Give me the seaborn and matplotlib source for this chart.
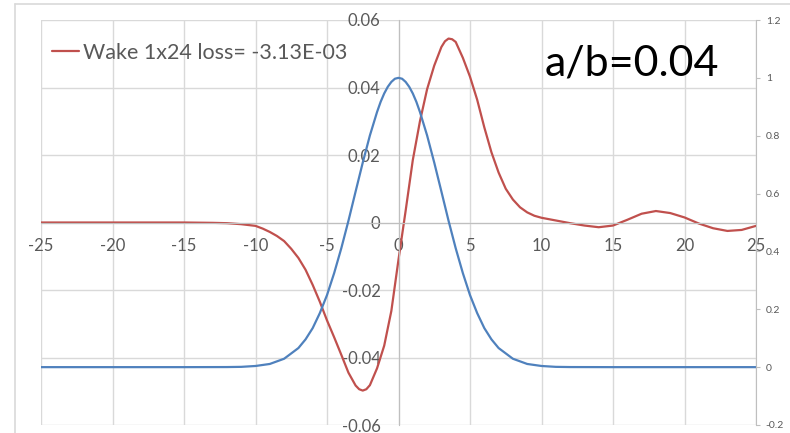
import matplotlib
matplotlib.use("Agg")
import matplotlib.pyplot as plt
import seaborn as sns
from matplotlib.lines import Line2D

# wake (red, left axis)
wake_x = [-25, -20, -15, -13, -12, -11, -10, -9.5, -9, -8.5, -8, -7.5, -7, -6.5, -6, -5.5, -5,
          -4.5, -4, -3.5, -3, -2.75, -2.5, -2.25, -2, -1.5, -1, -0.5, 0, 0.5, 1, 1.5, 2, 2.5,
          3, 3.25, 3.5, 3.75, 4, 4.5, 5, 5.5, 6, 6.5, 7, 7.5, 8, 8.5, 9, 9.5, 10, 11, 12, 13,
          14, 15, 16, 17, 18, 19, 20, 21, 22, 23, 24, 25]
wake_y = [0.0, 0.0, 0.0, -0.0001, -0.0002, -0.0005, -0.0010, -0.0018, -0.0028, -0.0040, -0.0055,
          -0.0078, -0.0105, -0.0140, -0.0185, -0.0235, -0.0290, -0.0340, -0.0392, -0.0445,
          -0.0483, -0.0494, -0.0498, -0.0494, -0.0482, -0.0432, -0.0365, -0.0262, -0.0110,
          0.0035, 0.0185, 0.0300, 0.0395, 0.0465, 0.0520, 0.0537, 0.0545, 0.0543, 0.0535,
          0.0488, 0.0432, 0.0364, 0.0282, 0.0208, 0.0148, 0.0100, 0.0068, 0.0045, 0.0030,
          0.0020, 0.0014, 0.0006, -0.0002, -0.0009, -0.0014, -0.0009, 0.0008, 0.0026, 0.0034,
          0.0028, 0.0015, -0.0003, -0.0017, -0.0025, -0.0022, -0.0010]

# bunch profile (blue, right axis)
bunch_x = [-25, -15, -12, -11, -10, -9, -8, -7, -6.5, -6, -5.5, -5, -4.5, -4, -3.5, -3, -2.5,
           -2, -1.5, -1.25, -1, -0.75, -0.5, -0.25, 0, 0.25, 0.5, 0.75, 1, 1.25, 1.5, 2, 2.5,
           3, 3.5, 4, 4.5, 5, 5.5, 6, 6.5, 7, 8, 9, 10, 11, 12, 15, 25]
bunch_y = [0.0, 0.0, 0.0003, 0.001, 0.004, 0.011, 0.029, 0.066, 0.096, 0.135, 0.187, 0.249,
           0.325, 0.411, 0.506, 0.607, 0.707, 0.801, 0.882, 0.917, 0.946, 0.969, 0.986, 0.997,
           1.0, 0.997, 0.986, 0.969, 0.946, 0.917, 0.882, 0.801, 0.707, 0.607, 0.506, 0.411,
           0.325, 0.249, 0.187, 0.135, 0.096, 0.066, 0.029, 0.011, 0.004, 0.001, 0.0003, 0.0,
           0.0]

x_ticks = [-25, -20, -15, -10, -5, 0, 5, 10, 15, 20, 25]
left_ticks = [-0.06, -0.04, -0.02, 0, 0.02, 0.04, 0.06]
left_labels = ["-0.06", "-0.04", "-0.02", "0", "0.02", "0.04", "0.06"]
right_ticks = [-0.2, 0, 0.2, 0.4, 0.6, 0.8, 1.0, 1.2]
right_labels = ["-0.2", "0", "0.2", "0.4", "0.6", "0.8", "1", "1.2"]

RED = "#C0504D"
BLUE = "#4F81BD"
GRID = "#D9D9D9"
TXT = "#595959"

sns.set_style("white")
plt.rcParams["font.family"] = ["Lato", "DejaVu Sans"]

W, H = 790, 433
fig = plt.figure(figsize=(W / 100, H / 100), dpi=100)
fig.patch.set_facecolor("white")

# chart outer border (cropped screenshot)
fig.add_artist(Line2D([15 / W, 1], [1 - 4 / H, 1 - 4 / H], color=GRID, lw=1.2))
fig.add_artist(Line2D([15 / W, 15 / W], [0, 1 - 4 / H], color=GRID, lw=1.2))

ax = fig.add_axes([41 / W, 1 - 425 / H, 715 / W, 405 / H])
ax.set_xlim(-25, 25)
ax.set_ylim(-0.06, 0.06)
ax.set_xticks(x_ticks)
ax.set_xticklabels([str(v) for v in x_ticks])
ax.set_yticks(left_ticks)
ax.set_yticklabels(left_labels)
ax.grid(True, color=GRID, lw=1)
ax.set_axisbelow(True)
for s in ["top", "right"]:
    ax.spines[s].set_visible(False)
ax.spines["left"].set_position(("data", 0))
ax.spines["bottom"].set_position(("data", 0))
ax.spines["left"].set_color("#BFBFBF")
ax.spines["bottom"].set_color("#BFBFBF")
ax.tick_params(axis="x", length=0, pad=11, labelsize=12, labelcolor=TXT)
ax.tick_params(axis="y", length=0, pad=13, labelsize=12, labelcolor=TXT)

sns.lineplot(x=wake_x, y=wake_y, ax=ax, color=RED, lw=1.6,
             label="Wake 1x24 loss= -3.13E-03")

ax2 = ax.twinx()
ax2.set_ylim(-0.2, 1.2)
ax2.set_yticks(right_ticks)
ax2.set_yticklabels(right_labels)
for s in ["top", "left", "bottom"]:
    ax2.spines[s].set_visible(False)
ax2.spines["right"].set_color("#BFBFBF")
ax2.tick_params(axis="y", length=3, width=0.8, color="#BFBFBF", pad=4,
                labelsize=7.5, labelcolor=TXT)
sns.lineplot(x=bunch_x, y=bunch_y, ax=ax2, color=BLUE, lw=1.6, legend=False)
ax2.set_ylabel("")

for ln in ax.get_lines() + ax2.get_lines():
    ln.set_solid_joinstyle("round")

ax.legend(loc="center left", bbox_to_anchor=(52 / W, 1 - 53 / H),
          bbox_transform=fig.transFigure, frameon=False, fontsize=15.5,
          handlelength=1.25, handletextpad=0.2, borderpad=0, borderaxespad=0,
          labelcolor=TXT)

fig.text(545 / W, 1 - 75 / H, "a/b=0.04", fontsize=31, color="black",
         ha="left", va="baseline")

fig.savefig("out.png", dpi=100)
